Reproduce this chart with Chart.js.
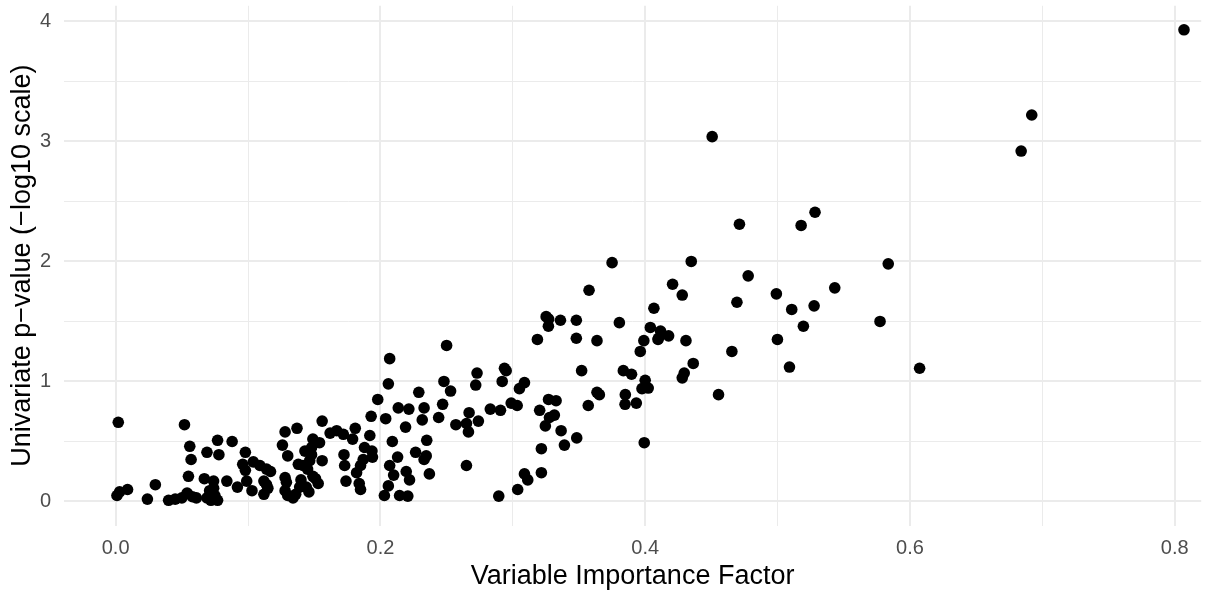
<!DOCTYPE html>
<html><head><meta charset="utf-8">
<script src="https://cdn.jsdelivr.net/npm/chart.js@4.4.1/dist/chart.umd.min.js"></script>
<style>html,body{margin:0;padding:0;background:#fff;}#wrap{width:1207px;height:597px;}</style>
</head><body><div id="wrap"><canvas id="c" width="1207" height="597"></canvas></div>
<script>
const importance = [
0.002,0.052,0.056,0.077,0.088,0.069,0.078,0.057,0.098,0.096,0.098,0.104,0.109,0.114,0.117,0.128,0.126,0.137,0.130,0.138,
0.055,0.067,0.074,0.074,0.084,0.092,0.099,0.103,0.112,0.114,0.112,0.128,0.129,0.128,0.130,0.134,0.139,0.001,0.003,0.009,
0.024,0.030,0.040,0.045,0.050,0.054,0.058,0.061,0.071,0.069,0.072,0.077,0.075,0.115,
0.250,0.207,0.206,0.248,0.253,0.273,0.272,0.283,0.229,0.198,0.2135,0.2215,0.233,0.2316,0.244,0.247,0.267,0.257,0.265,0.2665,
0.274,0.193,0.204,0.219,0.192,0.209,0.235,0.2266,0.2346,0.233,0.237,0.265,0.213,0.207,0.210,0.2195,0.222,0.206,0.203,0.2145,
0.2207,0.181,0.179,0.172,0.167,0.162,0.156,0.149,0.154,0.148,0.148,0.156,0.1415,0.1466,0.145,0.149,0.153,0.144,0.136,0.1725,
0.173,0.174,0.184,0.185,0.182,0.185,0.187,0.188,0.1936,0.194,0.140,0.151,0.146,0.143,
0.3186,0.348,0.3636,0.399,0.3963,0.410,0.4177,0.4308,0.4363,0.4295,0.428,0.352,0.3835,0.3897,0.400,0.3976,0.4023,0.385,0.3848,0.3933,
0.3636,0.3654,0.357,0.3993,0.2937,0.295,0.292,0.3088,0.305,0.2988,0.3033,0.2907,0.327,0.3327,0.3203,0.3314,0.3277,0.3246,0.3365,0.3483,
0.339,0.3216,0.3216,0.3088,0.3113,0.3037,0.2894,
0.375,0.4348,0.3576,0.4207,0.428,0.4066,0.3252,0.3271,0.3269,0.336,0.348,0.3805,0.4039,0.4116,0.4097,
0.4712,0.5178,0.5283,0.5836,0.4778,0.4693,0.4991,0.5432,0.5107,0.5276,0.5195,0.5774,0.4999,0.4655,0.509,0.6073,0.4554,
0.4506,0.684,0.692,0.807
];
const pvalue = [
0.66,0.64,0.46,0.51,0.50,0.41,0.39,0.35,0.41,0.31,0.26,0.33,0.30,0.27,0.25,0.58,0.47,0.61,0.38,0.31,
0.21,0.19,0.17,0.11,0.17,0.12,0.17,0.09,0.17,0.14,0.06,0.20,0.16,0.09,0.05,0.03,0.12,0.05,0.08,0.10,
0.02,0.14,0.01,0.02,0.03,0.07,0.04,0.03,0.09,0.03,0.01,0.01,0.05,0.11,
1.30,1.19,0.98,1.00,0.92,1.07,0.97,0.77,0.91,0.85,0.78,0.77,0.78,0.68,0.70,0.81,0.74,0.64,0.65,0.58,
0.67,0.71,0.69,0.62,0.55,0.50,0.51,0.41,0.38,0.35,0.23,0.30,0.37,0.30,0.22,0.25,0.18,0.13,0.05,0.05,
0.045,0.61,0.52,0.56,0.59,0.57,0.67,0.52,0.49,0.45,0.39,0.34,0.30,0.34,0.27,0.21,0.15,0.12,0.06,0.39,
0.30,0.17,0.15,0.10,0.24,0.30,0.35,0.45,0.42,0.37,0.18,0.19,0.08,0.42,
1.35,1.36,1.34,1.34,1.25,1.36,1.38,1.34,1.15,1.07,1.03,1.09,1.09,1.06,1.01,0.94,0.945,0.89,0.81,0.82,
0.91,0.89,0.80,0.49,1.11,1.09,1.00,0.99,0.94,0.82,0.80,0.76,0.85,0.84,0.76,0.72,0.70,0.63,0.59,0.53,
0.47,0.44,0.24,0.23,0.18,0.10,0.045,
1.99,2.00,1.76,1.81,1.72,1.61,1.54,1.52,1.46,1.51,1.51,1.49,1.45,1.42,1.35,
2.31,2.30,2.41,1.98,1.88,1.66,1.73,1.78,1.60,1.63,1.46,1.50,1.35,1.25,1.12,1.11,0.89,
3.04,2.92,3.22,3.93
];
const xGridValues = [0,0.1,0.2,0.3,0.4,0.5,0.6,0.7,0.8];
const xTickValues = [0,0.2,0.4,0.6,0.8];
const xTickLabels = ['0.0','0.2','0.4','0.6','0.8'];
const yGridValues = [0,0.5,1,1.5,2,2.5,3,3.5,4];
const yTickValues = [0,1,2,3,4];
const yTickLabels = ['0','1','2','3','4'];
const xTitle = 'Variable Importance Factor';
const yTitle = 'Univariate p\u2212value (\u2212log10 scale)';

const points = importance.map((v,i)=>({x:v,y:pvalue[i]}));
function labelFor(vals, labs, v){
  for(let i=0;i<vals.length;i++){ if(Math.abs(vals[i]-v)<1e-6) return labs[i]; }
  return '';
}
function isMajor(vals, v){ return vals.some(t=>Math.abs(t-v)<1e-6); }
const FONT = "'Liberation Sans', Arial, sans-serif";
const gridCol = '#EBEBEB';

new Chart(document.getElementById('c'), {
  type:'scatter',
  data:{datasets:[{data:points,backgroundColor:'#000000',borderWidth:0,pointRadius:5.8,pointHoverRadius:5.8}]},
  options:{
    responsive:false,animation:false,
    layout:{padding:{left:0,right:5,top:3,bottom:0}},
    plugins:{legend:{display:false},tooltip:{enabled:false}},
    scales:{
      x:{type:'linear',min:-0.039,max:0.82,
        afterBuildTicks:s=>{s.ticks=xGridValues.map(v=>({value:v}));},
        afterFit:s=>{s.height=71.5;s.paddingLeft=0;s.paddingRight=0;},
        border:{display:false},
        grid:{color:gridCol,drawTicks:false,lineWidth:c=>(c.tick&&isMajor(xTickValues,c.tick.value))?2:1},
        ticks:{autoSkip:false,maxRotation:0,padding:11,color:'#4D4D4D',font:{family:FONT,size:20},
          callback:v=>labelFor(xTickValues,xTickLabels,v)},
        title:{display:true,text:xTitle,color:'#000',font:{family:FONT,size:27},padding:{top:0,bottom:4}}
      },
      y:{type:'linear',min:-0.2,max:4.13,
        afterBuildTicks:s=>{s.ticks=yGridValues.map(v=>({value:v}));},
        afterFit:s=>{s.width=64;s.paddingTop=0;s.paddingBottom=0;},
        border:{display:false},
        grid:{color:gridCol,drawTicks:false,lineWidth:c=>(c.tick&&isMajor(yTickValues,c.tick.value))?2:1},
        ticks:{autoSkip:false,padding:13,color:'#4D4D4D',font:{family:FONT,size:20},
          callback:v=>labelFor(yTickValues,yTickLabels,v)},
        title:{display:true,text:yTitle,color:'#000',font:{family:FONT,size:27},padding:{top:6,bottom:0}}
      }
    }
  }
});
</script></body></html>
